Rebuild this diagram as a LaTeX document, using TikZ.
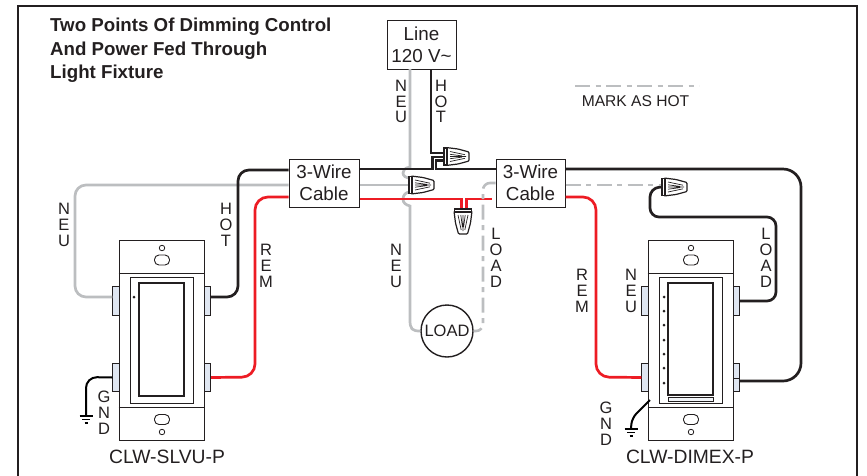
\documentclass[tikz,border=0pt]{standalone}
\usepackage{fontspec}
\setmainfont{Liberation Sans}
\usetikzlibrary{positioning}

\definecolor{inkc}{HTML}{231F20}
\definecolor{neuc}{HTML}{BCBEC0}
\definecolor{remc}{HTML}{ED1C24}
\definecolor{tabc}{HTML}{DFE6F1}

\tikzset{
	boxnode/.style={draw=inkc, line width=1pt, fill=white, text=inkc, align=center, inner sep=0pt, font=\fontsize{18.8}{22}\selectfont},
	wirelabel/.style={text=inkc, align=center, inner sep=0pt, font=\fontsize{16.5}{15.8}\selectfont},
	namelabel/.style={text=inkc, inner sep=0pt, font=\fontsize{19.3}{20}\selectfont},
	tabnode/.style={draw=inkc, line width=0.6pt, fill=tabc, minimum width=6.5pt, minimum height=28.5pt, inner sep=0pt},
	hotwire/.style={draw=inkc, line width=2.7pt, rounded corners=11pt},
	neuwire/.style={draw=neuc, line width=2.7pt, rounded corners=11pt},
	remwire/.style={draw=remc, line width=2.7pt, rounded corners=13pt},
	markwire/.style={draw=neuc, line width=2.6pt, rounded corners=7pt, dash pattern=on 15pt off 5.5pt on 5pt off 5.5pt},
	gndwire/.style={draw=black, line width=2pt, rounded corners=11pt},
	wirenut/.pic={
		\draw[draw=inkc, line width=1.2pt, fill=white, rounded corners=1pt] (2,-9) -- (14,-7.5) -- (25,-4.5) -- (25,4.5) -- (14,7.5) -- (2,9) -- cycle;
		\draw[draw=inkc, line width=1.2pt, fill=white] (0,-8.5) rectangle (3,8.5);
		\draw[draw=inkc, line width=0.7pt] (6,-5) -- (21,-1.8) (6,-2.2) -- (18,-0.6) (6,0) -- (22,0) (6,2.2) -- (18,0.6) (6,5) -- (21,1.8);
	},
}

\begin{document}
\begin{tikzpicture}[x=1pt, y=-1pt]
	\useasboundingbox (0,0) rectangle (867,475);
	\draw[inkc, line width=2.4pt] (18,485) -- (18,6) -- (857,6) -- (857,485);

	% title and legend
	\node (title) [anchor=north west, text=inkc, align=left, inner sep=0pt, font=\bfseries\fontsize{18.7}{23.3}\selectfont] at (50,18) {Two Points Of Dimming Control\\And Power Fed Through\\Light Fixture};
	\coordinate (mark1) at (575,86);
	\coordinate (mark2) at (699,86);
	\draw[markwire] (mark1) -- (mark2);
	\node (marktext) [wirelabel, font=\fontsize{15.6}{16}\selectfont] at (635.5,101.5) {MARK AS HOT};

	% boxes
	\node (line) [boxnode, minimum width=69pt, minimum height=49pt] at (421.5,44.5) {Line\\120 V\textasciitilde};
	\node (cableL) [boxnode, minimum width=70pt, minimum height=48pt] at (324,183) {3-Wire\\Cable};
	\node (cableR) [boxnode, minimum width=69pt, minimum height=48pt] at (530.5,183) {3-Wire\\Cable};
	\node (load) [draw=inkc, line width=1.4pt, circle, fill=white, text=inkc, minimum size=52pt, inner sep=0pt, font=\fontsize{16.5}{18}\selectfont] at (447,331) {LOAD};

	% the two switches
	\foreach \sw/\ox in {s1/0, s2/529} {
		\begin{scope}[xshift=\ox pt]
			\node (\sw body) [draw=inkc, line width=1pt, fill=white, minimum width=85pt, minimum height=200pt, inner sep=0pt] at (161.5,340) {};
			\draw[inkc, line width=1pt] (\sw body.west |- 0,273) -- (\sw body.east |- 0,273) (\sw body.west |- 0,407) -- (\sw body.east |- 0,407);
			\node (\sw frame) [draw=inkc, line width=1pt, minimum width=63pt, minimum height=126pt, inner sep=0pt] at (161.5,340) {};
			\node (\sw tl) [tabnode] at (116,301) {};
			\node (\sw bl) [tabnode] at (116,377.5) {};
			\node (\sw tr) [tabnode] at (207.5,301) {};
			\node (\sw br) [tabnode] at (207.5,377.5) {};
			\node (\sw holeT) [draw=inkc, line width=0.8pt, circle, minimum size=5.5pt, inner sep=0pt] at (162,248) {};
			\node (\sw slotT) [draw=inkc, line width=0.9pt, rounded corners=4.5pt, minimum width=15pt, minimum height=10pt, inner sep=0pt] at (162,260) {};
			\node (\sw slotB) [draw=inkc, line width=0.9pt, rounded corners=4.5pt, minimum width=15pt, minimum height=10pt, inner sep=0pt] at (162,419.5) {};
			\node (\sw holeB) [draw=inkc, line width=0.8pt, circle, minimum size=5.5pt, inner sep=0pt] at (162,432) {};
		\end{scope}
	}
	\node (s1paddle) [draw=inkc, line width=1.8pt, minimum width=45pt, minimum height=113pt, inner sep=0pt] at (161.5,339.5) {};
	\fill[inkc] (134,297) circle (1.5pt);
	\node (s2paddle) [draw=inkc, line width=1.8pt, minimum width=45pt, minimum height=112pt, inner sep=0pt] at (690.5,339) {};
	\node (s2bar) [draw=inkc, line width=0.7pt, fill=tabc!40, minimum width=45pt, minimum height=4pt, inner sep=0pt] at (690.5,399) {};
	\foreach \dy in {297,311,325,340,354,368,383} {
		\fill[inkc] (664,\dy) circle (1.5pt);
	}
	\draw[inkc, line width=0.6pt] (733,378) -- (740,378);

	% wire nuts
	\coordinate (nut1) at (444,156.5);
	\coordinate (nut2) at (409,185);
	\coordinate (nut3) at (463,209);
	\coordinate (nut4) at (662,187);

	% wires
	\coordinate (ltneu) at (410,69);
	\coordinate (lthot) at (431,69);
	\draw[neuwire, rounded corners=0pt] (ltneu) -- (410,167) .. controls (404,168) and (403,171) .. (403,173) .. controls (403,176) and (406,178) .. (410,178);
	\draw[neuwire, rounded corners=0pt] (410,192) .. controls (406,192) and (403,195) .. (403,199) .. controls (403,203) and (406,205) .. (410,206) -- (410,320) .. controls (410,329) and (412,331) .. (load.west);
	\draw[neuwire] (nut2) -- (cableL.east |- nut2);
	\draw[neuwire] (cableL.west |- nut2) -- (75,185) -- (75,297) -- ([yshift=4pt]s1tl.west);
	\draw[hotwire, rounded corners=0pt] (lthot) -- (431,153) -- (nut1 |- 0,153);
	\draw[hotwire, rounded corners=0pt] (cableL.east |- 0,169) -- (432.5,169) -- (432.5,157) -- (nut1 |- 0,157);
	\draw[hotwire, rounded corners=0pt] (cableR.west |- 0,169) -- (436,169) -- (436,160.5) -- (nut1 |- 0,160.5);
	\draw[hotwire] (cableL.west |- 0,170) -- (238,170) -- (238,297) -- ([yshift=4pt]s1tr.east);
	\draw[hotwire, rounded corners=18pt] (cableR.east |- 0,169) -- (801,169) -- (801,381) -- ([yshift=-3.5pt]s2br.east);
	\draw[hotwire, rounded corners=9pt] (s2tr.east) -- (776,301) -- (776,217) -- (650,217) -- (650,188) -- (nut4);
	\draw[remwire] (cableL.west |- 0,197) -- (255,197) -- (255,377) -- (s1br.east);
	\draw[remwire] (cableR.east |- 0,197) -- (596,197) -- (596,377) -- (s2bl.west);
	\draw[remwire, rounded corners=0pt] (cableL.east |- 0,199) -- (461.5,199) -- (461.5,209);
	\draw[remwire, rounded corners=0pt] (466.5,209) -- (466.5,199) -- (492,199);
	\draw[markwire] (cableR.east |- 0,185) -- (nut4 |- 0,185);
	\draw[markwire] (cableR.west |- 0,183) -- (483,183) -- (483,331) -- (load.east);
	\draw[gndwire] (s1bl.west) -- (86,377) -- (86,415);
	\draw[gndwire, rounded corners=6pt] (650,400) -- (632,418) -- (631,428);

	\pic at (nut1) {wirenut};
	\pic at (nut2) {wirenut};
	\pic[rotate=-90] at (nut3) {wirenut};
	\pic at (nut4) {wirenut};

	% ground marks
	\foreach \gx/\gy in {86/416, 631/429} {
		\draw[black, line width=1.7pt] (\gx-6.5,\gy) -- (\gx+6.5,\gy);
		\draw[black, line width=1.7pt] (\gx-4,\gy+3.5) -- (\gx+4,\gy+3.5);
		\draw[black, line width=1.7pt] (\gx-1.5,\gy+7) -- (\gx+1.5,\gy+7);
	}

	% wire labels
	\node (lblneu1) [wirelabel] at (401,101.5) {N\\E\\U};
	\node (lblhot1) [wirelabel] at (441,101.5) {H\\O\\T};
	\node (lblneu2) [wirelabel] at (64,225) {N\\E\\U};
	\node (lblhot2) [wirelabel] at (226,225) {H\\O\\T};
	\node (lblrem1) [wirelabel] at (266,266) {R\\E\\M};
	\node (lblgnd1) [wirelabel] at (104,413) {G\\N\\D};
	\node (lblneu3) [wirelabel] at (396,266) {N\\E\\U};
	\node (lblload1) [wirelabel] at (496,258) {L\\O\\A\\D};
	\node (lblrem2) [wirelabel] at (582,291) {R\\E\\M};
	\node (lblneu4) [wirelabel] at (631,291) {N\\E\\U};
	\node (lblload2) [wirelabel] at (766,258) {L\\O\\A\\D};
	\node (lblgnd2) [wirelabel] at (606,424) {G\\N\\D};

	\node (name1) [namelabel] at (167,456.5) {CLW-SLVU-P};
	\node (name2) [namelabel] at (690,456.5) {CLW-DIMEX-P};
\end{tikzpicture}
\end{document}
